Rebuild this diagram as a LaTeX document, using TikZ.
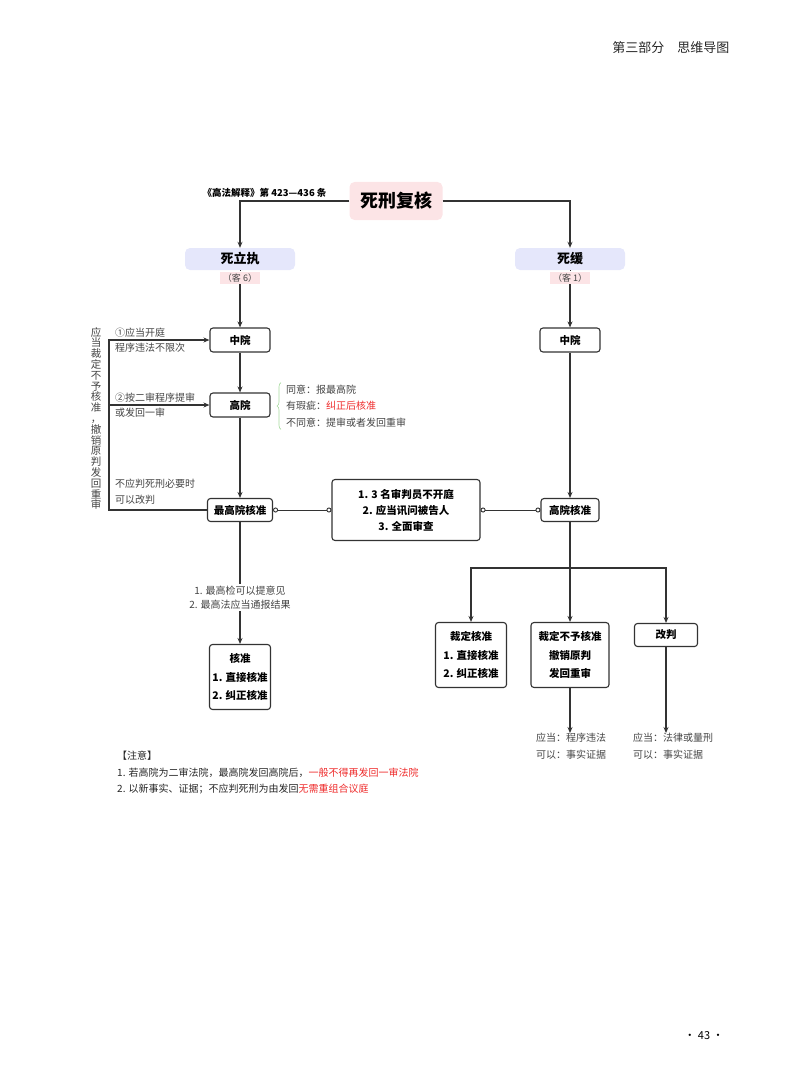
\documentclass[tikz,border=0pt]{standalone}
\usepackage{fontspec}
\setmainfont{Noto Sans CJK SC}
\usepackage{tikz}
\usetikzlibrary{arrows.meta, positioning, calc, decorations.pathreplacing}
\definecolor{tikzpink}{HTML}{FCE4E6}
\definecolor{tikzlav}{HTML}{E5E7FB}
\definecolor{tikzred}{HTML}{EE2B2B}
\definecolor{tikzgreen}{HTML}{A8DBA0}
\definecolor{tikzline}{HTML}{333333}
\definecolor{tikzgray}{HTML}{444444}

\begin{document}
\begin{tikzpicture}[x=1pt, y=-1pt,
            stepbox/.style={draw=tikzline, rounded corners=3pt, line width=1.1pt, fill=white, inner sep=0pt, align=center, font=\fontsize{10.5}{18.5}\selectfont\bfseries},
            tag/.style={fill=#1, rounded corners=5pt, inner sep=0pt},
            side/.style={font=\fontsize{10}{16.5}\selectfont, text=tikzgray, inner sep=0pt, align=left},
            link/.style={draw=tikzline, line width=1.1pt},
            ring/.style={draw=tikzline, line width=0.9pt, {Circle[open, length=5pt, width=5pt]}-{Circle[open, length=5pt, width=5pt]}},
            >={Stealth[length=6pt, width=5pt]}
        ]
          \useasboundingbox (0,0) rectangle (800,1086);
          \node[font=\fontsize{13}{13}\selectfont, text=black!85, anchor=east] (part) at (733,48) {第三部分\quad 思维导图};
          % top of the tree
          \node[tag=tikzpink, minimum width=93pt, minimum height=38pt, font=\fontsize{18}{18}\selectfont\bfseries] (root) at (396,201) {死刑复核};
          \node[font=\fontsize{9.5}{9.5}\selectfont\bfseries, anchor=east] (law) at (330,193) {《高法解释》第 423—436 条};
          \node[tag=tikzlav, minimum width=110pt, minimum height=22pt, font=\fontsize{13}{13}\selectfont\bfseries] (slz) at (240,259) {死立执};
          \node[tag=tikzpink, rounded corners=0pt, minimum width=40pt, minimum height=12pt, font=\fontsize{9}{9}\selectfont, text=tikzgray] (k6) at (240,278) {（客 6）};
          \node[tag=tikzlav, minimum width=110pt, minimum height=22pt, font=\fontsize{13}{13}\selectfont\bfseries] (sh) at (570,259) {死缓};
          \node[tag=tikzpink, rounded corners=0pt, minimum width=40pt, minimum height=12pt, font=\fontsize{9}{9}\selectfont, text=tikzgray] (k1) at (570,278) {（客 1）};
          \draw[link, ->] (root.west) -| (slz.north);
          \draw[link, ->] (root.east) -| (sh.north);
          \draw[draw=tikzline, line width=0.6pt, densely dotted] (slz.south) -- (k6.north);
          \draw[draw=tikzline, line width=0.6pt, densely dotted] (sh.south) -- (k1.north);
          % left branch
          \node[stepbox, minimum width=60pt, minimum height=24pt] (zyL) at (240,340) {中院};
          \node[stepbox, minimum width=60pt, minimum height=24pt] (gyL) at (240,405) {高院};
          \node[stepbox, minimum width=65pt, minimum height=23pt] (zgy) at (240,510) {最高院核准};
          \node[stepbox, minimum width=61pt, minimum height=65pt] (hz) at (240,677) {核准\\1. 直接核准\\2. 纠正核准};
          \draw[link, ->] (k6.south) -- (zyL.north);
          \draw[link, ->] (zyL.south) -- (gyL.north);
          \draw[link, ->] (gyL.south) -- (zgy.north);
          \draw[link, ->] (zgy.south) -- node[pos=0.62, side, align=center, fill=white, inner sep=2pt, font=\fontsize{10}{14}\selectfont] (supv) {1. 最高检可以提意见\\2. 最高法应当通报结果} (hz.north);
          \node[side, anchor=west] (gyNote) at (286,406) {同意：报最高院\\有瑕疵：\textcolor{tikzred}{纠正后核准}\\不同意：提审或者发回重审};
          \draw[tikzgreen, line width=0.6pt, decorate, decoration={brace, amplitude=4pt}] ([xshift=-5pt, yshift=-2pt]gyNote.south west) -- ([xshift=-5pt, yshift=2pt]gyNote.north west);
          % loop back on the left
          \coordinate (loopTop) at (109,340);
          \draw[link, ->] (zgy.west) -| (loopTop) -- (zyL.west);
          \draw[link, ->] (loopTop |- gyL.west) -- (gyL.west);
          \node[side, anchor=south west] (lab1) at (115,338) {①应当开庭};
          \node[side, anchor=north west] (lab1b) at (115,343) {程序违法不限次};
          \node[side, anchor=south west] (lab2) at (115,403) {②按二审程序提审};
          \node[side, anchor=north west] (lab2b) at (115,408) {或发回一审};
          \node[side, anchor=south west] (lab3) at (115,505) {不应判死刑必要时\\可以改判};
          \node[side, align=center, anchor=north, font=\fontsize{10.5}{10.8}\selectfont] (vtext) at (96,327) {应\\当\\裁\\定\\不\\予\\核\\准\\，\\撤\\销\\原\\判\\发\\回\\重\\审};
          % middle box
          \node[stepbox, minimum width=148pt, minimum height=61pt, font=\fontsize{10.5}{16}\selectfont\bfseries] (rule) at (406,510) {1. 3 名审判员不开庭\\2. 应当讯问被告人\\3. 全面审查};
          % right branch
          \node[stepbox, minimum width=60pt, minimum height=24pt] (zyR) at (570,340) {中院};
          \node[stepbox, minimum width=58pt, minimum height=23pt] (gyhz) at (570,510) {高院核准};
          \draw[link, ->] (k1.south) -- (zyR.north);
          \draw[link, ->] (zyR.south) -- (gyhz.north);
          \draw[ring] (zgy.east) -- (rule.west);
          \draw[ring] (rule.east) -- (gyhz.west);
          \node[stepbox, minimum width=71pt, minimum height=65pt] (cdhz) at (471,655) {裁定核准\\1. 直接核准\\2. 纠正核准};
          \node[stepbox, minimum width=78pt, minimum height=65pt] (bhz) at (570,655) {裁定不予核准\\撤销原判\\发回重审};
          \node[stepbox, minimum width=63pt, minimum height=23pt] (gp) at (666,635) {改判};
          \coordinate (fork) at (570,568);
          \draw[link] (gyhz.south) -- (fork);
          \draw[link, ->] (fork) -| (cdhz.north);
          \draw[link, ->] (fork) -- (bhz.north);
          \draw[link, ->] (fork) -| (gp.north);
          \node[side, anchor=north west] (bhzNote) at (536,733) {应当：程序违法\\可以：事实证据};
          \node[side, anchor=north west] (gpNote) at (633,733) {应当：法律或量刑\\可以：事实证据};
          \draw[link, ->] (bhz.south) -- (bhz.south |- bhzNote.north);
          \draw[link, ->] (gp.south) -- (gp.south |- gpNote.north);
          % notes at the bottom
          \node[side, anchor=north west, text=black!85] (tips) at (117,751) {【注意】\\1. 若高院为二审法院，最高院发回高院后，\textcolor{tikzred}{一般不得再发回一审法院}\\2. 以新事实、证据；不应判死刑为由发回\textcolor{tikzred}{无需重组合议庭}};
          \node[font=\fontsize{11}{11}\selectfont] (pgnum) at (704,1036) {· 43 ·};
        \end{tikzpicture}
\end{document}
